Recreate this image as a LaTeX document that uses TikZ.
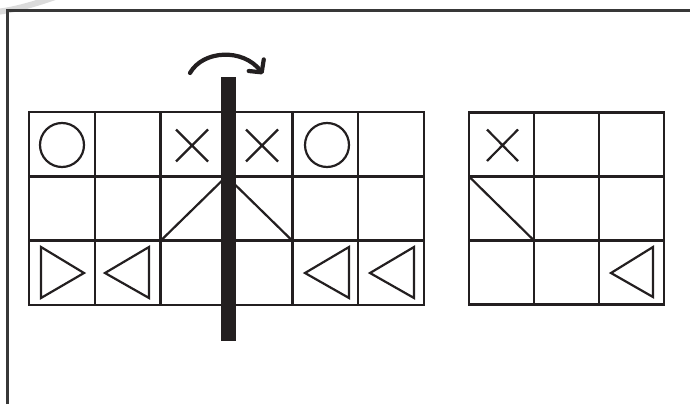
\documentclass[tikz,border=0pt]{standalone}
\usetikzlibrary{arrows.meta}
\definecolor{ink}{HTML}{231F20}
\begin{document}
\begin{tikzpicture}[x=1pt,y=-1pt,
  gridline/.style={draw=ink,line width=2.6pt},
  sym/.style={draw=ink,line width=2.2pt,line join=miter},
  framel/.style={draw=black!78,line width=2.2pt}]
\useasboundingbox (0,0) rectangle (690,404);
% grey ring fragment at top-left
\draw[gray!28,line width=6pt] (-4,12) .. controls (15,10) and (35,4) .. (58,-4);
% frame
\draw[framel] (7.5,404) -- (7.5,10.5) -- (690,10.5);
% left grid
\draw[gridline] (29,112) rectangle (424,305);
\foreach \i in {1,...,5}{\draw[gridline] ({29+\i*65.83},112) -- ({29+\i*65.83},305);}
\foreach \j in {1,2}{\draw[gridline] (29,{112+\j*64.33}) -- (424,{112+\j*64.33});}
% right grid
\draw[gridline] (469,112.5) rectangle (664,304.5);
\foreach \i in {1,2}{\draw[gridline] ({469+\i*65},112.5) -- ({469+\i*65},304.5);}
\foreach \j in {1,2}{\draw[gridline] (469,{112.5+\j*64}) -- (664,{112.5+\j*64});}
% left grid symbols
\draw[sym] (62,145) circle (22);
\draw[sym] (327,145) circle (22);
\draw[sym] (176,129.5) -- (208,161.5) (176,161.5) -- (208,129.5);
\draw[sym] (246,129.5) -- (278,161.5) (246,161.5) -- (278,129.5);
\draw[sym] (160.7,240.7) -- (226.5,176.3) -- (292.3,240.7);
\draw[sym] (41,247) -- (84,273) -- (41,298) -- cycle;
\draw[sym] (149,247) -- (105,273) -- (149,298) -- cycle;
\draw[sym] (349,247) -- (305,273) -- (349,298) -- cycle;
\draw[sym] (414,247) -- (370,273) -- (414,298) -- cycle;
% right grid symbols
\draw[sym] (487,129.5) -- (518,161) (487,161) -- (518,129.5);
\draw[sym] (469,176.5) -- (534,240.5);
\draw[sym] (653,247) -- (611,273) -- (653,297) -- cycle;
% folding bar
\fill[ink] (221,77) rectangle (236,341);
% rotation arrow
\draw[ink,line width=4.2pt,line cap=round,
  -{Straight Barb[length=9pt,width=19pt,line cap=round,line join=round]}]
  (190,73) .. controls (203,50) and (243,48) .. (263,74);
\end{tikzpicture}
\end{document}
